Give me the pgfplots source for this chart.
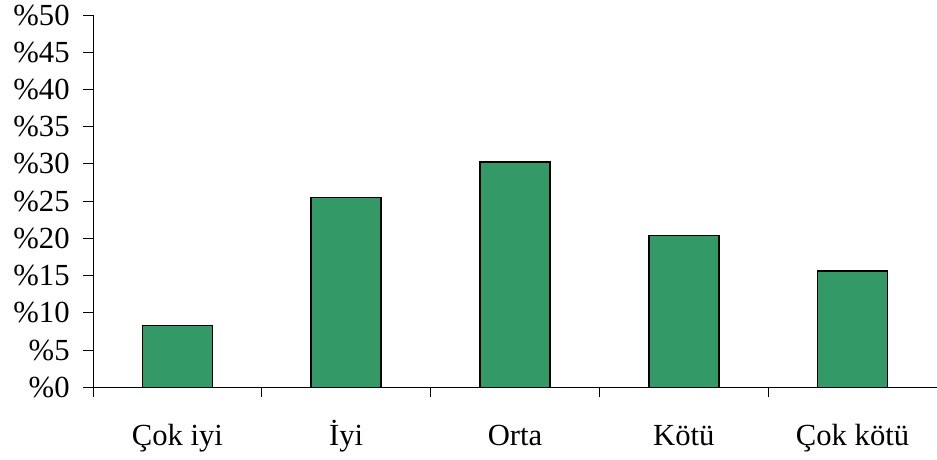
\documentclass[border=0pt]{standalone}
\usepackage{pgfplots}
\pgfplotsset{compat=1.18}
\usepackage{fontspec}
\setmainfont{Liberation Serif}
\definecolor{barg}{RGB}{51,153,102}
\begin{document}
\begin{tikzpicture}
\path[use as bounding box] (-69.75pt,-53.8pt) rectangle (633pt,290.5pt);
\begin{axis}[
 at={(0,0)}, anchor=south west,
 scale only axis, width=633pt, height=279.2pt,
 xmin=-0.5, xmax=4.5, ymin=0, ymax=50,
 axis x line=bottom, axis y line=left,
 axis line style={-, line width=0.75pt},
 tick align=outside, major tick length=7.5pt,
 every tick/.style={black, line width=0.75pt},
 xtick={-0.5,0.5,1.5,2.5,3.5,4.5}, xticklabels={},
 extra x ticks={0,1,2,3,4},
 extra x tick labels={Çok iyi,İyi,Orta,Kötü,Çok kötü},
 extra x tick style={major tick length=0pt, tick label style={anchor=base, yshift=-43.5pt}},
 ytick={0,5,10,15,20,25,30,35,40,45,50},
 yticklabels={\%0,\%5,\%10,\%15,\%20,\%25,\%30,\%35,\%40,\%45,\%50},
 tick label style={font=\fontsize{23}{27}\selectfont},
 yticklabel style={xshift=-6.5pt},
 ybar, bar width=52.5pt,
]
\addplot[fill=barg, draw=black, line width=1.2pt] coordinates {(0,8.3)(1,25.5)(2,30.3)(3,20.4)(4,15.6)};
\end{axis}
\end{tikzpicture}
\end{document}
